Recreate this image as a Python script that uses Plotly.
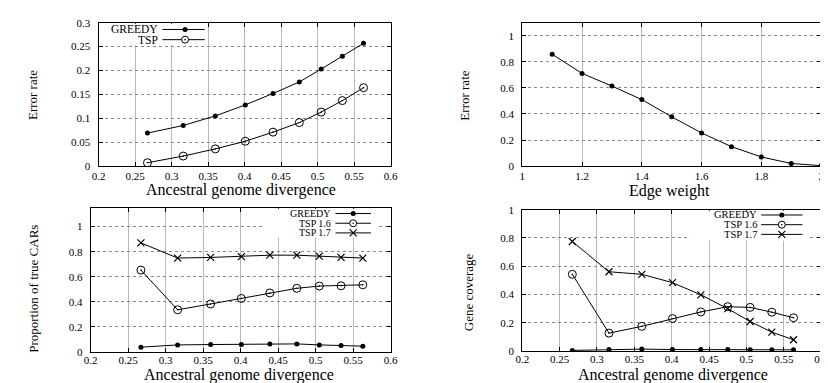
import plotly.graph_objects as go

W, H = 828, 383

# ---------------- data ----------------
divergence = [0.267, 0.316, 0.360, 0.401, 0.439, 0.475, 0.505, 0.534, 0.563]

err_greedy = [0.069, 0.085, 0.105, 0.128, 0.152, 0.176, 0.203, 0.230, 0.257]
err_tsp = [0.007, 0.021, 0.036, 0.052, 0.071, 0.091, 0.113, 0.137, 0.164]

edge_weight = [1.1, 1.2, 1.3, 1.4, 1.5, 1.6, 1.7, 1.8, 1.9, 2.0]
err_edge = [0.858, 0.711, 0.614, 0.510, 0.378, 0.254, 0.149, 0.070, 0.020, 0.003]

car_greedy = [0.039, 0.057, 0.060, 0.060, 0.065, 0.065, 0.057, 0.052, 0.047]
car_tsp16 = [0.653, 0.337, 0.383, 0.427, 0.471, 0.508, 0.526, 0.528, 0.536]
car_tsp17 = [0.870, 0.749, 0.754, 0.761, 0.772, 0.772, 0.764, 0.754, 0.749]

cov_greedy = [0.005, 0.011, 0.014, 0.011, 0.011, 0.011, 0.009, 0.009, 0.009]
cov_tsp16 = [0.543, 0.127, 0.175, 0.230, 0.277, 0.314, 0.309, 0.275, 0.236]
cov_tsp17 = [0.775, 0.561, 0.543, 0.484, 0.398, 0.300, 0.209, 0.134, 0.080]

# tick labels
div_ticks = ["0.2", "0.25", "0.3", "0.35", "0.4", "0.45", "0.5", "0.55", "0.6"]
edge_ticks = ["1", "1.2", "1.4", "1.6", "1.8", "2"]
err_ticks = ["0", "0.05", "0.1", "0.15", "0.2", "0.25", "0.3"]
unit_ticks = ["0", "0.2", "0.4", "0.6", "0.8", "1"]

# ---------------- layout helpers ----------------
FONT = "Liberation Serif"

def px(x):
    return x / W

def py(y):
    return 1 - y / H

# plot boxes in pixels: (left, right, top, bottom)
boxes = {
    1: (85, 382, 9, 157),
    2: (516, 820, 9, 157),
    3: (77, 382, 200, 349),
    4: (516, 820, 202, 348),
}

STYLE = {
    "GREEDY": dict(symbol="circle", size=5, color="black", line=dict(width=0)),
    "TSP": dict(symbol="circle-open-dot", size=8, color="black", line=dict(width=1, color="black")),
    "TSP 1.6": dict(symbol="circle-open-dot", size=8, color="black", line=dict(width=1, color="black")),
    "TSP 1.7": dict(symbol="x-thin", size=7, color="black", line=dict(width=1.2, color="black")),
}

fig = go.Figure()

def add(n, x, y, name):
    ax = "" if n == 1 else str(n)
    fig.add_trace(go.Scatter(
        x=x, y=y, name=name, mode="lines+markers",
        line=dict(color="black", width=1),
        marker=STYLE[name],
        xaxis="x" + ax, yaxis="y" + ax, showlegend=False,
    ))

add(1, divergence, err_greedy, "GREEDY")
add(1, divergence, err_tsp, "TSP")
add(2, edge_weight, err_edge, "GREEDY")
add(3, divergence, car_greedy, "GREEDY")
add(3, divergence, car_tsp16, "TSP 1.6")
add(3, divergence, car_tsp17, "TSP 1.7")
add(4, divergence, cov_greedy, "GREEDY")
add(4, divergence, cov_tsp16, "TSP 1.6")
add(4, divergence, cov_tsp17, "TSP 1.7")

axis_common = dict(
    showline=True, linecolor="black", linewidth=1, mirror="allticks",
    ticks="inside", ticklen=4, tickcolor="black", tickwidth=1,
    zeroline=False, showgrid=True, ticklabeloverflow="allow",
    tickfont=dict(family=FONT, size=11, color="black"),
)

axes_spec = {
    1: dict(x=[0.2, 0.6], xt=div_ticks, y=[0, 0.3], yt=err_ticks, so=0),
    2: dict(x=[1, 2], xt=edge_ticks, y=[0, 1.1], yt=unit_ticks, so=0),
    3: dict(x=[0.2, 0.6], xt=div_ticks, y=[0, 1.15], yt=unit_ticks, so=-2),
    4: dict(x=[0.2, 0.6], xt=div_ticks, y=[0, 1.0], yt=unit_ticks, so=-2),
}

layout_axes = {}
for n, (l, r, t, b) in boxes.items():
    s = "" if n == 1 else str(n)
    sp = axes_spec[n]
    layout_axes["xaxis" + s] = dict(
        axis_common, domain=[px(l), px(r)], anchor="y" + s, range=sp["x"],
        tickmode="array", tickvals=[float(v) for v in sp["xt"]], ticktext=sp["xt"],
        ticklabelstandoff=sp["so"],
        gridcolor="#b8b8b8", griddash="solid", gridwidth=1,
    )
    layout_axes["yaxis" + s] = dict(
        axis_common, domain=[py(b), py(t)], anchor="x" + s, range=sp["y"],
        tickmode="array", tickvals=[float(v) for v in sp["yt"]], ticktext=sp["yt"],
        ticklabelstandoff=5,
        gridcolor="#8a8a8a", griddash="dot", gridwidth=1,
    )

fig.update_layout(
    width=W, height=H, margin=dict(l=0, r=0, t=0, b=0),
    paper_bgcolor="white", plot_bgcolor="white",
    font=dict(family=FONT, color="black"),
    showlegend=False,
    **layout_axes,
)

# ---------------- gnuplot-style keys ----------------
legends = [
    # panel, names, text_end, sample x0, x1, marker x, rows y, box (l, r, t, b), font size
    (1, ["GREEDY", "TSP"], 147, 150, 193, 173, [16, 26.5], (86, 196, 10, 32), 11.5),
    (3, ["GREEDY", "TSP 1.6", "TSP 1.7"], 323, 326, 362, 344, [206, 216, 226], (253, 370, 201, 231), 10),
    (4, ["GREEDY", "TSP 1.6", "TSP 1.7"], 757, 759, 801, 780, [207.5, 217.5, 227.5], (687, 806, 203, 234), 10.5),
]

shapes = []
annotations = []
for n, names, tend, s0, s1, mx, rows, box, fsize in legends:
    bl, br, bt, bb = box
    shapes.append(dict(type="rect", xref="paper", yref="paper",
                       x0=px(bl), x1=px(br), y0=py(bb), y1=py(bt),
                       fillcolor="white", line=dict(width=0), layer="above"))
    for name, ry in zip(names, rows):
        annotations.append(dict(text=name, x=px(tend), y=py(ry), xref="paper", yref="paper",
                                showarrow=False, xanchor="right", yanchor="middle",
                                font=dict(family=FONT, size=fsize, color="black")))
        shapes.append(dict(type="line", xref="paper", yref="paper",
                           x0=px(s0), x1=px(s1), y0=py(ry), y1=py(ry),
                           line=dict(color="black", width=1), layer="above"))
        common = dict(xref="paper", yref="paper", xsizemode="pixel", ysizemode="pixel",
                      xanchor=px(mx), yanchor=py(ry), layer="above")
        if name == "GREEDY":
            shapes.append(dict(type="circle", x0=-2.5, x1=2.5, y0=-2.5, y1=2.5,
                               fillcolor="black", line=dict(width=0), **common))
        elif name in ("TSP", "TSP 1.6"):
            shapes.append(dict(type="circle", x0=-3.5, x1=3.5, y0=-3.5, y1=3.5,
                               fillcolor="white", line=dict(width=1, color="black"), **common))
            shapes.append(dict(type="circle", x0=-0.8, x1=0.8, y0=-0.8, y1=0.8,
                               fillcolor="black", line=dict(width=0), **common))
        else:
            shapes.append(dict(type="path", path="M-3.5,-3.5 L3.5,3.5 M-3.5,3.5 L3.5,-3.5",
                               line=dict(width=1.2, color="black"), **common))

# ---------------- axis titles ----------------
xtitles = [
    ("Ancestral genome divergence", 230, 182),
    ("Edge weight", 666, 183),
    ("Ancestral genome divergence", 228, 372.5),
    ("Ancestral genome divergence", 669, 372.5),
]
ytitles = [
    ("Error rate", 18, 84),
    ("Error rate", 457, 84),
    ("Proportion of true CARs", 18, 284),
    ("Gene coverage", 461, 287),
]
for text, x, y in xtitles:
    annotations.append(dict(text=text, x=px(x), y=py(y), xref="paper", yref="paper",
                            showarrow=False, xanchor="center", yanchor="middle",
                            font=dict(family=FONT, size=16, color="black")))
for text, x, y in ytitles:
    annotations.append(dict(text=text, x=px(x), y=py(y), xref="paper", yref="paper",
                            showarrow=False, xanchor="center", yanchor="middle", textangle=-90,
                            font=dict(family=FONT, size=13, color="black")))

fig.update_layout(shapes=shapes, annotations=annotations)

fig.write_html("out.html")
